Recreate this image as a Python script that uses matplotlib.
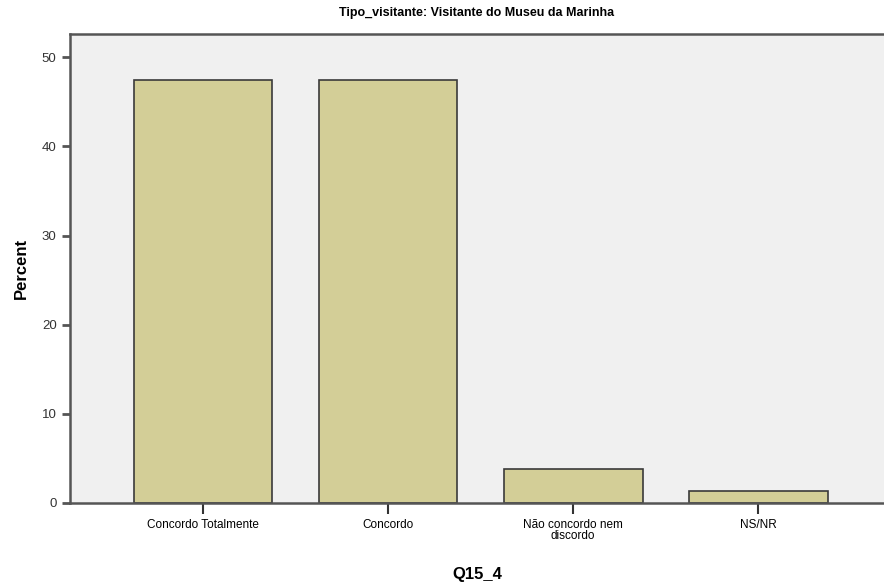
import matplotlib.pyplot as plt

categories = ["Concordo Totalmente", "Concordo", "Não concordo nem\ndiscordo", "NS/NR"]
percent = [47.4, 47.4, 3.8, 1.3]
yticks = [0, 10, 20, 30, 40, 50]

plt.rcParams["font.family"] = ["Liberation Sans", "DejaVu Sans"]

fig = plt.figure(figsize=(8.84, 5.88), dpi=100)
ax = fig.add_axes([0.079, 0.1446, 0.921, 0.7974])
ax.set_facecolor("#f0f0f0")

x = range(len(categories))
ax.bar(x, percent, width=0.75, color="#d3ce97", edgecolor="#3a3a3a", linewidth=1.2)

ax.set_xlim(-0.72, 3.68)
ax.set_ylim(0, 52.6)
ax.set_xticks(list(x))
ax.set_xticklabels(categories, fontsize=8.5, linespacing=0.95)
ax.set_yticks(yticks)
ax.tick_params(axis="y", labelsize=9.5, length=6, width=2, color="#555555", labelcolor="#333333")
ax.tick_params(axis="x", length=8, width=1.5, color="#333333")

ax.spines["right"].set_visible(False)
for side in ["left", "bottom", "top"]:
    ax.spines[side].set_color("#555555")
    ax.spines[side].set_linewidth(1.8)

ax.set_ylabel("Percent", fontsize=12, fontweight="bold", labelpad=9)
ax.set_xlabel("Q15_4", fontsize=12, fontweight="bold", labelpad=18)
ax.set_title("Tipo_visitante: Visitante do Museu da Marinha", fontsize=9, fontweight="bold", pad=13)

fig.savefig("out.png", dpi=100)
